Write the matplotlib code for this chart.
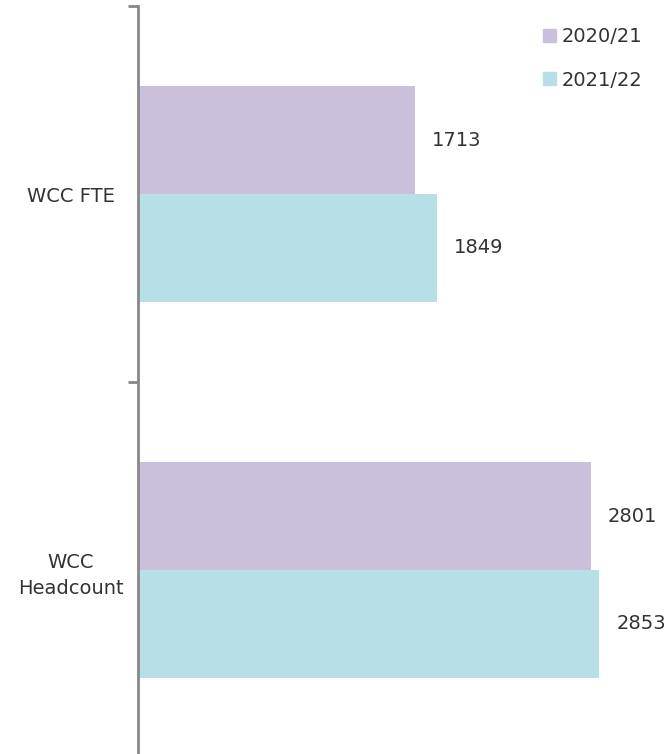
import matplotlib
matplotlib.use("Agg")
import matplotlib.pyplot as plt
from matplotlib.patches import Patch
import numpy as np

categories = ["WCC FTE", "WCC\nHeadcount"]
series_names = ["2020/21", "2021/22"]
values_2020 = [1713, 2801]
values_2021 = [1849, 2853]
colors = ["#cbc0dc", "#b7dfe8"]

plt.rcParams['font.family'] = ['DejaVu Sans']
text_color = "#333333"
fs = 14

fig = plt.figure(figsize=(6.7, 7.54), dpi=100)
ax = fig.add_axes([138/670, -4/754, 1 - 138/670, 1 - 2/754])

y = np.arange(len(categories))
h = 0.286
ax.barh(y - h/2, values_2020, height=h, color=colors[0], label=series_names[0])
ax.barh(y + h/2, values_2021, height=h, color=colors[1], label=series_names[1])

for i in range(len(categories)):
    ax.annotate(str(values_2020[i]), (values_2020[i], y[i] - h/2), xytext=(17, 0),
                textcoords="offset pixels", va="center", ha="left", fontsize=fs, color=text_color)
    ax.annotate(str(values_2021[i]), (values_2021[i], y[i] + h/2), xytext=(17, 0),
                textcoords="offset pixels", va="center", ha="left", fontsize=fs, color=text_color)

ax.set_xlim(0, 3290)
ax.set_ylim(len(categories) - 0.5, -0.5)

ax.set_yticks([-0.5, 0.5, 1.5])
ax.set_yticklabels([])
ax.set_yticks(y, minor=True)
ax.set_yticklabels(categories, minor=True, fontsize=fs, color=text_color, ha="center",
                   linespacing=1.5)
ax.tick_params(axis="y", which="minor", length=0, pad=48.5)
ax.tick_params(axis="y", which="major", length=7, width=2, color="#888888")
ax.set_xticks([])
for s in ["top", "right", "bottom"]:
    ax.spines[s].set_visible(False)
ax.spines["left"].set_color("#888888")
ax.spines["left"].set_linewidth(2)

handles = [Patch(color=c, label=n) for c, n in zip(colors, series_names)]
leg = fig.legend(handles=handles, loc="upper right", bbox_to_anchor=(1.0, 1.0),
                 frameon=False, fontsize=fs, handlelength=0.67, handleheight=0.67,
                 handletextpad=0.3, labelspacing=1.25, borderaxespad=1.0)
for t in leg.get_texts():
    t.set_color(text_color)

fig.savefig("out.png", dpi=100)
